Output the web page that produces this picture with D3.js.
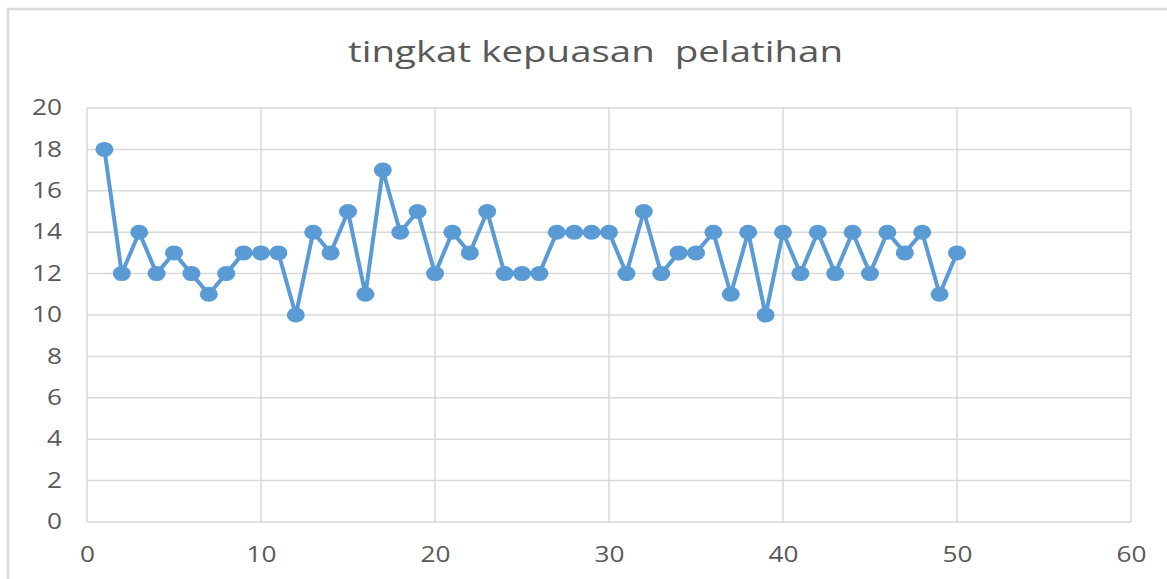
<!DOCTYPE html>
<html><head><meta charset="utf-8">
<script src="https://cdn.jsdelivr.net/npm/d3@7"></script>
<style>body{margin:0;background:#fff}svg{display:block}</style>
</head><body>
<svg id="c" width="1167" height="579"></svg>
<script>
const titleText = "tingkat kepuasan  pelatihan";
const xValues = [1,2,3,4,5,6,7,8,9,10,11,12,13,14,15,16,17,18,19,20,21,22,23,24,25,26,27,28,29,30,31,32,33,34,35,36,37,38,39,40,41,42,43,44,45,46,47,48,49,50];
const yValues = [18,12,14,12,13,12,11,12,13,13,13,10,14,13,15,11,17,14,15,12,14,13,15,12,12,12,14,14,14,14,12,15,12,13,13,14,11,14,10,14,12,14,12,14,12,14,13,14,11,13];
const xTicks = [0,10,20,30,40,50,60];
const yTicks = [0,2,4,6,8,10,12,14,16,18,20];

const svg = d3.select("#c");
const font = "'Open Sans', 'Noto Sans', sans-serif";
const L = 87, R = 1131, T = 108, B = 522;
const x = d3.scaleLinear().domain([0,60]).range([L,R]);
const y = d3.scaleLinear().domain([0,20]).range([B,T]);

// outer chart border (top and left visible)
svg.append("path").attr("d","M8,579 L8,9 L1167,9").attr("fill","none").attr("stroke","#d9d9d9").attr("stroke-width",2.5);

// gridlines
svg.append("g").selectAll("line").data(yTicks).join("line")
  .attr("x1",L).attr("x2",R).attr("y1",d=>y(d)).attr("y2",d=>y(d))
  .attr("stroke","#d9d9d9").attr("stroke-width",1.5);
svg.append("g").selectAll("line").data(xTicks).join("line")
  .attr("x1",d=>x(d)).attr("x2",d=>x(d)).attr("y1",T).attr("y2",B)
  .attr("stroke","#d9d9d9").attr("stroke-width",1.5);

function styleTicks(g){
  g.select(".domain").remove();
  g.selectAll("text").attr("font-family",font).attr("font-size",21).attr("fill","#595959")
    .attr("textLength",d=>String(d).length*15).attr("lengthAdjust","spacingAndGlyphs");
}
const gy = svg.append("g").attr("transform",`translate(${L},0)`)
  .call(d3.axisLeft(y).tickValues(yTicks).tickSize(0).tickPadding(25));
styleTicks(gy);

const gx = svg.append("g").attr("transform",`translate(0,${B})`)
  .call(d3.axisBottom(x).tickValues(xTicks).tickSize(0).tickPadding(25));
styleTicks(gx);

// title
svg.append("text").attr("x",(348+843)/2).attr("y",62).attr("text-anchor","middle")
  .style("white-space","pre")
  .attr("font-family",font).attr("font-size",30).attr("fill","#595959")
  .attr("textLength",495).attr("lengthAdjust","spacingAndGlyphs")
  .text(titleText);

// line
const pts = xValues.map((v,i)=>[v,yValues[i]]);
svg.append("path").datum(pts)
  .attr("d",d3.line().x(d=>x(d[0])).y(d=>y(d[1])))
  .attr("fill","none").attr("stroke","#5b9bd5").attr("stroke-width",4).attr("stroke-linejoin","round");

svg.append("g").selectAll("ellipse").data(pts).join("ellipse")
  .attr("cx",d=>x(d[0])).attr("cy",d=>y(d[1])).attr("rx",9).attr("ry",7.5)
  .attr("fill","#5b9bd5");
</script>
</body></html>
